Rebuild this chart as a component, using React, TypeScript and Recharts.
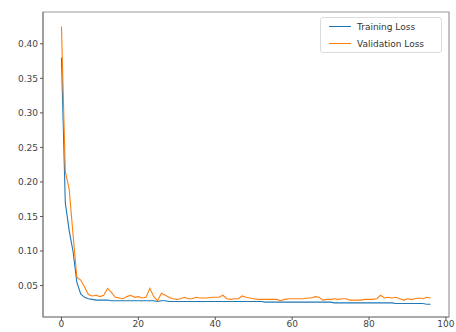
import { LineChart, Line, XAxis, YAxis, ReferenceArea } from 'recharts';

// loss per epoch
const trainLoss = [
  0.38, 0.17, 0.13, 0.10, 0.055, 0.038, 0.033, 0.031, 0.030, 0.029,
  0.029, 0.029, 0.029, 0.028, 0.028, 0.028, 0.028, 0.028, 0.028, 0.028,
  0.028, 0.028, 0.028, 0.028, 0.028, 0.027, 0.028, 0.028, 0.027, 0.027,
  0.027, 0.027, 0.027, 0.027, 0.027, 0.027, 0.027, 0.027, 0.027, 0.027,
  0.027, 0.027, 0.027, 0.027, 0.027, 0.027, 0.027, 0.027, 0.027, 0.027,
  0.027, 0.027, 0.027, 0.026, 0.026, 0.026, 0.026, 0.026, 0.026, 0.026,
  0.026, 0.026, 0.026, 0.026, 0.026, 0.026, 0.026, 0.026, 0.026, 0.026,
  0.026, 0.025, 0.025, 0.025, 0.025, 0.025, 0.025, 0.025, 0.025, 0.025,
  0.025, 0.025, 0.025, 0.025, 0.025, 0.025, 0.025, 0.024, 0.024, 0.024,
  0.024, 0.024, 0.024, 0.024, 0.024, 0.023, 0.023,
];
const valLoss = [
  0.425, 0.215, 0.19, 0.125, 0.062, 0.058, 0.048, 0.037, 0.035, 0.036,
  0.034, 0.036, 0.046, 0.040, 0.033, 0.032, 0.031, 0.034, 0.036, 0.033,
  0.034, 0.032, 0.033, 0.046, 0.034, 0.028, 0.039, 0.036, 0.033, 0.031,
  0.030, 0.031, 0.033, 0.031, 0.031, 0.033, 0.032, 0.032, 0.032, 0.033,
  0.033, 0.033, 0.036, 0.031, 0.030, 0.031, 0.031, 0.035, 0.033, 0.032,
  0.031, 0.030, 0.030, 0.030, 0.030, 0.030, 0.030, 0.028, 0.030, 0.031,
  0.031, 0.031, 0.031, 0.031, 0.032, 0.032, 0.034, 0.033, 0.029, 0.030,
  0.030, 0.031, 0.030, 0.031, 0.031, 0.029, 0.029, 0.029, 0.029, 0.030,
  0.030, 0.030, 0.031, 0.036, 0.032, 0.033, 0.032, 0.033, 0.031, 0.029,
  0.031, 0.030, 0.031, 0.032, 0.031, 0.033, 0.032,
];
const xTicks = [0, 20, 40, 60, 80, 100];
const yTicks = [0.05, 0.10, 0.15, 0.20, 0.25, 0.30, 0.35, 0.40];

const X_DOMAIN = [-4.8, 100.8];
const Y_DOMAIN = [0.0045, 0.446];

const data = trainLoss.map((t, i) => ({ epoch: i, train: t, val: valLoss[i] }));

const FONT = '"DejaVu Sans", sans-serif';
const BLUE = '#1f77b4';
const ORANGE = '#ff7f0e';

function LossLegend() {
  const row = (color: string, label: string) => (
    <div style={{ display: 'flex', alignItems: 'center', height: 17 }}>
      <span style={{ display: 'inline-block', width: 22, height: 0, borderTop: `1.3px solid ${color}`, marginRight: 6 }} />
      <span>{label}</span>
    </div>
  );
  return (
    <div style={{
      position: 'absolute', left: 320, top: 17, boxSizing: 'border-box',
      border: '1px solid #dcdcdc', borderRadius: 3, background: 'rgba(255,255,255,0.8)',
      padding: '0px 4px 0px 8px', fontFamily: FONT, fontSize: 9, color: '#333', width: 122,
    }}>
      {row(BLUE, 'Training Loss')}
      {row(ORANGE, 'Validation Loss')}
    </div>
  );
}

export default function App() {
  return (
    <div style={{ position: 'absolute', left: 0, top: 0, width: 456, height: 332, background: '#fff' }}>
      <LineChart width={456} height={332} data={data} margin={{ top: 12, right: 7, left: 0, bottom: 0 }}>
        <XAxis
          dataKey="epoch"
          type="number"
          domain={X_DOMAIN}
          ticks={xTicks}
          allowDataOverflow
          height={15}
          tickSize={3}
          tickMargin={1}
          axisLine={{ stroke: '#888', strokeWidth: 1.2 }}
          tickLine={{ stroke: '#555' }}
          tick={{ fontSize: 9, fill: '#444', fontFamily: FONT }}
        />
        <YAxis
          type="number"
          domain={Y_DOMAIN}
          ticks={yTicks}
          allowDataOverflow
          width={43}
          tickSize={3}
          tickMargin={2}
          tickFormatter={(v) => v.toFixed(2)}
          axisLine={{ stroke: '#888', strokeWidth: 1.2 }}
          tickLine={{ stroke: '#555' }}
          tick={{ fontSize: 9, fill: '#444', fontFamily: FONT }}
        />
        <ReferenceArea
          x1={X_DOMAIN[0]} x2={X_DOMAIN[1]} y1={Y_DOMAIN[0]} y2={Y_DOMAIN[1]}
          fill="none" stroke="#999" strokeWidth={1.2} ifOverflow="visible"
        />
        <Line dataKey="train" stroke={BLUE} strokeWidth={1.1} dot={false} isAnimationActive={false} />
        <Line dataKey="val" stroke={ORANGE} strokeWidth={1.1} dot={false} isAnimationActive={false} />
      </LineChart>
      <LossLegend />
    </div>
  );
}
